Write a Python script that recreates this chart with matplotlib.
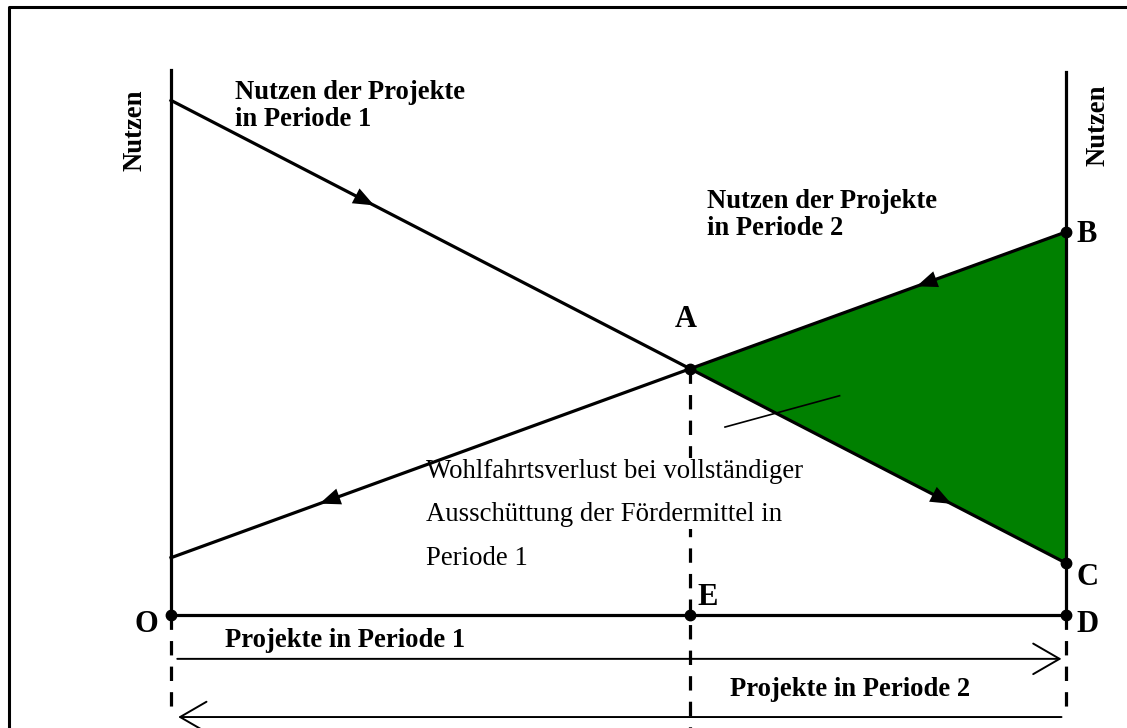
import matplotlib.pyplot as plt
import matplotlib as mpl
from matplotlib.patches import Polygon
from matplotlib.lines import Line2D

mpl.rc("font", family=["Liberation Serif", "DejaVu Serif"])

# projects axis (O .. D) and the two benefit curves at both ends
proj_ends = [0.0, 10.0]
nutzen_p1 = [5.75, 0.58]   # benefit of projects, period 1 (falls left to right)
nutzen_p2 = [0.64, 4.28]   # benefit of projects, period 2 (rises left to right)
axis_top = 6.09

# x positions of the direction arrowheads on each curve
arrow_x_p1 = [2.27, 8.72]
arrow_x_p2 = [1.66, 8.33]


def line_at(ys, x):
    return ys[0] + (ys[1] - ys[0]) * (x - proj_ends[0]) / (proj_ends[1] - proj_ends[0])


# intersection A
s1 = (nutzen_p1[1] - nutzen_p1[0]) / (proj_ends[1] - proj_ends[0])
s2 = (nutzen_p2[1] - nutzen_p2[0]) / (proj_ends[1] - proj_ends[0])
xa = (nutzen_p2[0] - nutzen_p1[0]) / (s1 - s2)
ya = line_at(nutzen_p1, xa)

fig = plt.figure(figsize=(11.27, 7.28), dpi=100)
ax = fig.add_axes([0, 0, 1, 1])
px = 89.5
ax.set_xlim(-171 / px, (1127 - 171) / px)
ax.set_ylim(-(728 - 615) / px, 615 / px)
ax.axis("off")

# frame: only left and top edges are visible in the crop
fig.lines.append(Line2D([9 / 1127, 9 / 1127, 1.0], [0.0, 1 - 7 / 728, 1 - 7 / 728],
                        transform=fig.transFigure, color="k", lw=2.2))

x0, x1 = proj_ends
lw = 2.3

# green welfare loss triangle A-B-C
ax.add_patch(Polygon([(xa, ya), (x1, nutzen_p2[1]), (x1, nutzen_p1[1])],
                     closed=True, fc="#008000", ec="none", zorder=1))

# axes
ax.plot([x0, x0], [0, axis_top], color="k", lw=lw, zorder=3)
ax.plot([x1, x1], [0, axis_top - 0.02], color="k", lw=lw, zorder=3)
ax.plot([x0, x1], [0, 0], color="k", lw=lw, zorder=3)

# benefit curves
ax.plot(proj_ends, nutzen_p1, color="k", lw=lw, zorder=3)
ax.plot(proj_ends, nutzen_p2, color="k", lw=lw, zorder=3)

# arrowheads along the curves
for xs, ys, sign in [(arrow_x_p1, nutzen_p1, 1), (arrow_x_p2, nutzen_p2, -1)]:
    for xt in xs:
        dx = 0.25 * sign
        ax.annotate("", xy=(xt, line_at(ys, xt)),
                    xytext=(xt - dx, line_at(ys, xt - dx)),
                    arrowprops=dict(arrowstyle="-|>,head_length=0.75,head_width=0.3",
                                    color="k", lw=0, shrinkA=0, shrinkB=0,
                                    mutation_scale=20),
                    zorder=4)

# dashed verticals
dash = dict(color="k", lw=lw, linestyle=(0, (4.5, 3.5)), zorder=2)
ax.plot([xa, xa], [ya, -1.3], **dash)
ax.plot([x0, x0], [0, -1.14], **dash)
ax.plot([x1, x1], [0, -1.09], **dash)

# dots
ax.plot([xa, x1, x1, x1, xa, x0],
        [ya, nutzen_p2[1], nutzen_p1[1], 0, 0, 0],
        "o", color="k", ms=7.5, zorder=5)

# project arrows
head = dict(arrowstyle="->,head_length=0.95,head_width=0.55",
            color="k", lw=1.4, shrinkA=0, shrinkB=0, mutation_scale=20)
ax.annotate("", xy=(9.95, -0.49), xytext=(0.07, -0.49), arrowprops=head)
ax.annotate("", xy=(0.08, -1.14), xytext=(9.95, -1.14), arrowprops=head)

# annotation line into the triangle
ax.plot([6.19, 7.47], [2.1, 2.45], color="k", lw=1.2, zorder=4)

bold = dict(fontweight="bold", fontsize=19.2)
ax.text(0.715, 5.98, "Nutzen der Projekte\nin Periode 1", ha="left", va="top",
        linespacing=1.1, **bold)
ax.text(5.99, 4.76, "Nutzen der Projekte\nin Periode 2", ha="left", va="top",
        linespacing=1.1, **bold)
ax.text(-0.40, 5.42, "Nutzen", rotation=90, ha="center", va="center", **bold)
ax.text(10.36, 5.47, "Nutzen", rotation=90, ha="center", va="center", **bold)
ax.text(1.94, -0.29, "Projekte in Periode 1", ha="center", va="center", **bold)
ax.text(7.59, -0.83, "Projekte in Periode 2", ha="center", va="center", **bold)

ax.text(2.85, 1.36,
        "Wohlfahrtsverlust bei vollständiger\nAusschüttung der Fördermittel in",
        ha="left", va="center", fontsize=19.3, linespacing=1.95, zorder=2.5,
        bbox=dict(fc="white", ec="none", pad=1))
ax.text(2.85, 0.63, "Periode 1", ha="left", va="center", fontsize=19.3, zorder=2.5)

letter = dict(fontweight="bold", fontsize=22, va="center")
ax.text(5.75, 3.30, "A", ha="center", **letter)
ax.text(10.12, 4.25, "B", ha="left", **letter)
ax.text(10.12, 0.42, "C", ha="left", **letter)
ax.text(10.12, -0.11, "D", ha="left", **letter)
ax.text(5.88, 0.2, "E", ha="left", **letter)
ax.text(-0.27, -0.11, "O", ha="center", **letter)

fig.savefig("out.png", dpi=100)
